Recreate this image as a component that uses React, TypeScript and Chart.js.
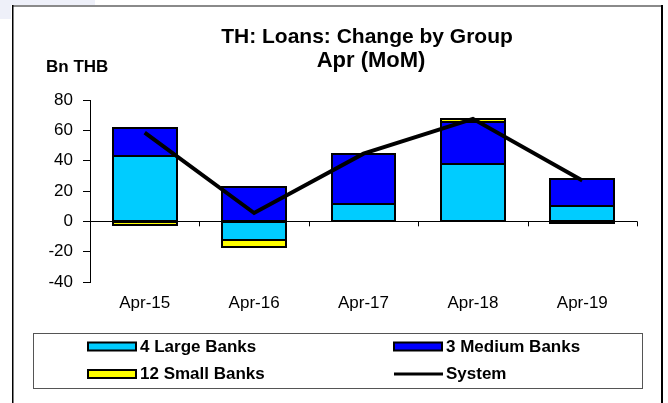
import { useEffect, useRef } from 'react';
import { Chart, registerables } from 'chart.js';

Chart.register(...registerables);

const categories = ['Apr-15', 'Apr-16', 'Apr-17', 'Apr-18', 'Apr-19'];
const largeBanks = [43.3, -12, 11.7, 38, 10];
const mediumBanks = [18, 22.7, 32.5, 27.5, 18.2];
const smallBanks = [-2.7, -5.2, 0.5, 2, -1];
const systemTotal = [58.5, 5.5, 44.6, 67.6, 27];

const yMin = -40;
const yMax = 80;
const yStep = 20;

const titleLines = ['TH: Loans: Change by Group', 'Apr (MoM)'];
const unitLabel = 'Bn THB';
const seriesLabels = ['4 Large Banks', '3 Medium Banks', '12 Small Banks', 'System'];
const seriesColors = ['#00CCFF', '#0000FF', '#FFFF00', '#000000'];

const FONT = '"Liberation Sans", Arial, Helvetica, sans-serif';

const decorPlugin = {
  id: 'decor',
  beforeDraw(chart: any) {
    const ctx = chart.ctx;
    ctx.save();
    ctx.fillStyle = '#ffffff';
    ctx.fillRect(0, 0, chart.width, chart.height);
    // faint watermark at top-left
    ctx.fillStyle = '#eef0f9';
    ctx.fillRect(0, 0, 95, 5);
    ctx.fillRect(0, 5, 11, 14);
    ctx.restore();
  },
  afterDatasetDraw(chart: any, args: any) {
    const meta = args.meta;
    if (meta.type !== 'bar') return;
    const ctx = chart.ctx;
    ctx.save();
    ctx.strokeStyle = '#000';
    ctx.lineWidth = 2;
    meta.data.forEach((el: any) => {
      const p = el.getProps(['x', 'y', 'base', 'width'], true);
      if (Math.abs(p.base - p.y) < 0.01) return;
      const l = Math.round(p.x - p.width / 2);
      const r = Math.round(p.x + p.width / 2);
      const t = Math.round(Math.min(p.y, p.base));
      const b = Math.round(Math.max(p.y, p.base));
      ctx.strokeRect(l, t, r - l, Math.max(b - t, 0.5));
    });
    ctx.restore();
  },
  afterDatasetsDraw(chart: any) {
    const ctx = chart.ctx;
    const xs = chart.scales.x;
    const ys = chart.scales.y;
    const y0 = ys.getPixelForValue(0);
    const n = chart.data.labels.length;
    ctx.save();
    ctx.strokeStyle = '#000';
    ctx.lineWidth = 1;
    ctx.beginPath();
    for (let i = 1; i <= n; i++) {
      const bx = Math.round(xs.left + ((xs.right - xs.left) * i) / n) + 0.5;
      ctx.moveTo(bx, y0);
      ctx.lineTo(bx, y0 + 5);
    }
    ctx.stroke();
    ctx.restore();
  },
  afterDraw(chart: any) {
    const ctx = chart.ctx;
    ctx.save();
    // outer frame
    ctx.fillStyle = '#8a8a8a';
    ctx.fillRect(12, 5, 651, 2);
    ctx.fillStyle = '#000';
    ctx.fillRect(12, 5, 1.5, chart.height - 5);
    ctx.fillRect(661, 5, 2, chart.height - 5);

    // titles
    ctx.fillStyle = '#000';
    ctx.textAlign = 'center';
    ctx.textBaseline = 'alphabetic';
    ctx.font = `bold 21px ${FONT}`;
    ctx.fillText(titleLines[0], 367, 42.5);
    ctx.font = `bold 22px ${FONT}`;
    ctx.fillText(titleLines[1], 371, 66.5);
    ctx.textAlign = 'left';
    ctx.font = `bold 17px ${FONT}`;
    ctx.fillText(unitLabel, 46, 71.5);

    // legend
    ctx.strokeStyle = '#555';
    ctx.lineWidth = 1;
    ctx.strokeRect(33.5, 333.5, 609, 55);
    const pos = [
      [88, 346.5],
      [394, 346.5],
      [88, 374],
      [394, 374],
    ];
    const ds = chart.data.datasets;
    ds.forEach((d: any, i: number) => {
      const [lx, ly] = pos[i];
      if (d.type === 'line') {
        ctx.strokeStyle = '#000';
        ctx.lineWidth = 3;
        ctx.beginPath();
        ctx.moveTo(lx, ly);
        ctx.lineTo(lx + 49, ly);
        ctx.stroke();
      } else {
        ctx.fillStyle = d.backgroundColor;
        ctx.fillRect(lx, ly - 4, 48, 8);
        ctx.strokeStyle = '#000';
        ctx.lineWidth = 2;
        ctx.strokeRect(lx, ly - 4, 48, 8);
      }
      ctx.fillStyle = '#000';
      ctx.font = `bold 17px ${FONT}`;
      ctx.textAlign = 'left';
      ctx.textBaseline = 'middle';
      ctx.fillText(d.label, lx + 52, ly + 0.5);
    });
    ctx.restore();
  },
};

export default function App() {
  const ref = useRef<HTMLCanvasElement | null>(null);

  useEffect(() => {
    if (!ref.current) return;
    Chart.defaults.font.family = FONT;
    const barCommon = {
      borderWidth: 0,
      borderSkipped: false,
      inflateAmount: 0,
      categoryPercentage: 1,
      barPercentage: 0.585,
      order: 1,
    };
    const chart = new Chart(ref.current, {
      type: 'bar',
      data: {
        labels: categories,
        datasets: [
          { type: 'bar', label: seriesLabels[0], data: largeBanks, backgroundColor: seriesColors[0], ...barCommon } as any,
          { type: 'bar', label: seriesLabels[1], data: mediumBanks, backgroundColor: seriesColors[1], ...barCommon } as any,
          { type: 'bar', label: seriesLabels[2], data: smallBanks, backgroundColor: seriesColors[2], ...barCommon } as any,
          {
            type: 'line',
            label: seriesLabels[3],
            data: systemTotal,
            borderColor: seriesColors[3],
            backgroundColor: seriesColors[3],
            borderWidth: 4,
            pointRadius: 0,
            tension: 0,
            stack: 'system',
            order: 0,
          } as any,
        ],
      },
      options: {
        animation: false,
        responsive: false,
        devicePixelRatio: 1,
        layout: { padding: { top: 100, right: 31, bottom: 0, left: 0 } },
        plugins: {
          legend: { display: false },
          title: { display: false },
          tooltip: { enabled: false },
        },
        scales: {
          x: {
            type: 'category',
            stacked: true,
            offset: true,
            grid: { display: false, drawTicks: false },
            border: { display: false },
            ticks: {
              color: '#000',
              font: { size: 17 },
              padding: 11,
              maxRotation: 0,
              autoSkip: false,
            },
            afterFit: (s: any) => {
              s.height = 121;
            },
          },
          y: {
            type: 'linear',
            stacked: true,
            min: yMin,
            max: yMax,
            ticks: {
              stepSize: yStep,
              color: '#000',
              font: { size: 17 },
              padding: 10,
            },
            grid: {
              drawOnChartArea: true,
              color: (c: any) => (c.tick && c.tick.value === 0 ? '#000000' : 'rgba(0,0,0,0)'),
              tickColor: '#000000',
              tickLength: 7,
              lineWidth: 1,
            },
            border: { display: true, color: '#000', width: 1 },
            afterFit: (s: any) => {
              s.width = 90;
            },
          },
        },
      },
      plugins: [decorPlugin],
    });
    return () => chart.destroy();
  }, []);

  return (
    <div style={{ position: 'fixed', left: 0, top: 0, width: 668, height: 403, background: '#fff' }}>
      <canvas ref={ref} width={668} height={403} />
    </div>
  );
}
